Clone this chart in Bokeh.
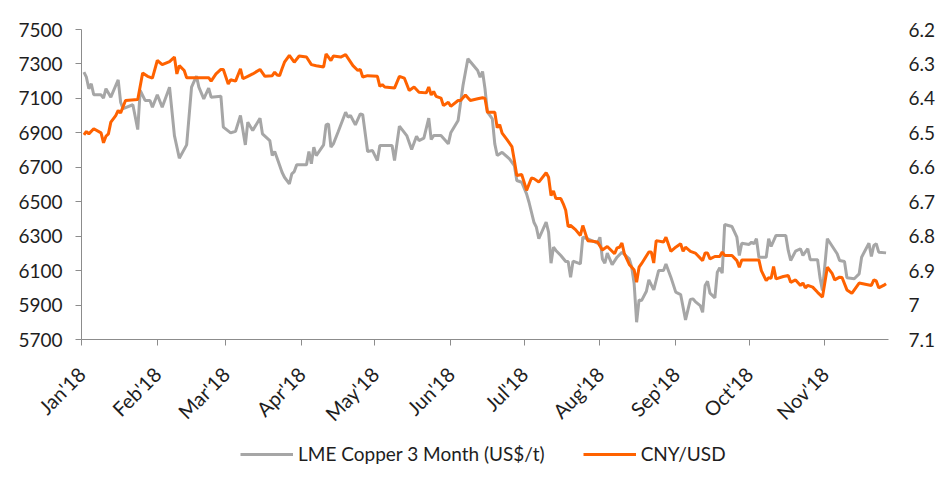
import math
from datetime import datetime
import pandas as pd
from bokeh.plotting import figure
from bokeh.layouts import column
from bokeh.models import (Range1d, LinearAxis, FixedTicker, MonthsTicker,
                          DatetimeTickFormatter, Legend, LegendItem)
from bokeh.embed import file_html
from bokeh.resources import INLINE

# ---------------- data ----------------
lme_dates = [
    "01-02", "01-03", "01-04", "01-05", "01-06", "01-09", "01-10", "01-11", "01-13", "01-16",
    "01-17", "01-18", "01-22", "01-24", "01-25", "01-27", "01-29", "01-30", "02-01", "02-03",
    "02-06", "02-08", "02-10", "02-13", "02-15", "02-17", "02-18", "02-20", "02-22", "02-23",
    "02-27", "02-28", "03-03", "03-05", "03-07", "03-09", "03-10", "03-12", "03-15", "03-16",
    "03-19", "03-20", "03-21", "03-22", "03-24", "03-25", "03-27", "03-28", "03-29", "03-30",
    "04-03", "04-04", "04-05", "04-06", "04-07", "04-10", "04-11", "04-12", "04-13", "04-14",
    "04-16", "04-19", "04-20", "04-21", "04-23", "04-25", "04-26", "04-28", "04-30", "05-02",
    "05-03", "05-08", "05-09", "05-11", "05-14", "05-16", "05-18", "05-19", "05-21", "05-23",
    "05-24", "05-25", "05-28", "05-31", "06-01", "06-04", "06-06", "06-08", "06-12", "06-13",
    "06-14", "06-15", "06-16", "06-17", "06-18", "06-19", "06-20", "06-22", "06-25", "06-27",
    "06-28", "06-30", "07-02", "07-03", "07-05", "07-06", "07-07", "07-10", "07-11", "07-12",
    "07-13", "07-14", "07-16", "07-18", "07-19", "07-20", "07-21", "07-24", "07-25", "07-27",
    "07-31", "08-01", "08-02", "08-03", "08-04", "08-06", "08-08", "08-10", "08-13", "08-14",
    "08-15", "08-16", "08-17", "08-18", "08-20", "08-21", "08-23", "08-25", "08-27", "08-28",
    "08-30", "09-01", "09-03", "09-05", "09-07", "09-08", "09-09", "09-11", "09-12", "09-13",
    "09-14", "09-15", "09-17", "09-18", "09-19", "09-20", "09-21", "09-24", "09-26", "09-27",
    "09-28", "10-01", "10-02", "10-03", "10-04", "10-05", "10-08", "10-09", "10-10", "10-12",
    "10-16", "10-17", "10-18", "10-20", "10-22", "10-23", "10-25", "10-26", "10-29", "10-30",
    "10-31", "11-02", "11-06", "11-07", "11-09", "11-10", "11-13", "11-15", "11-16", "11-19",
    "11-20", "11-21", "11-22", "11-23", "11-26",
]
lme_copper = [
    7252, 7223, 7156, 7185, 7121, 7121, 7101, 7156, 7107, 7208,
    7078, 7040, 7063, 6919, 7146, 7088, 7088, 7049, 7121, 7049,
    7165, 6884, 6753, 6830, 7165, 7229, 7165, 7097, 7159, 7107,
    7113, 6933, 6900, 6909, 7001, 6830, 6962, 6913, 6985, 6894,
    6855, 6768, 6792, 6753, 6671, 6642, 6604, 6662, 6675, 6714,
    6714, 6792, 6720, 6817, 6768, 6830, 6946, 6952, 6817, 6836,
    6908, 7020, 6991, 7001, 6946, 7010, 7005, 6792, 6797, 6739,
    6826, 6826, 6739, 6939, 6884, 6803, 6880, 6855, 6869, 6985,
    6861, 6884, 6884, 6836, 6900, 6972, 7175, 7330, 7262, 7223,
    7256, 7156, 7020, 7001, 6981, 6836, 6768, 6787, 6749, 6710,
    6623, 6613, 6546, 6497, 6381, 6352, 6285, 6381, 6323, 6143,
    6236, 6217, 6188, 6153, 6153, 6062, 6155, 6139, 6294, 6285,
    6259, 6294, 6168, 6143, 6201, 6135, 6178, 6207, 6168, 6120,
    6023, 5800, 5930, 5926, 5980, 6046, 5988, 6100, 6100, 6139,
    6062, 5975, 5961, 5814, 5933, 5936, 5920, 5897, 5858, 6013,
    6038, 5969, 5942, 6091, 6116, 6085, 6368, 6356, 6294, 6188,
    6259, 6252, 6265, 6256, 6285, 6178, 6178, 6285, 6240, 6304,
    6304, 6217, 6159, 6213, 6227, 6188, 6227, 6163, 6163, 6058,
    5984, 6285, 6198, 6159, 6153, 6058, 6053, 6081, 6178, 6259,
    6182, 6246, 6256, 6207, 6203,
]

cny_dates = [
    "01-02", "01-03", "01-04", "01-06", "01-09", "01-10", "01-11", "01-12", "01-13", "01-15",
    "01-16", "01-17", "01-19", "01-24", "01-26", "01-28", "01-30", "02-01", "02-03", "02-06",
    "02-08", "02-09", "02-10", "02-12", "02-13", "02-22", "02-23", "02-25", "02-27", "02-28",
    "03-02", "03-03", "03-05", "03-07", "03-08", "03-10", "03-12", "03-15", "03-17", "03-20",
    "03-21", "03-22", "03-23", "03-24", "03-25", "03-27", "03-29", "03-31", "04-03", "04-05",
    "04-07", "04-10", "04-11", "04-13", "04-14", "04-17", "04-19", "04-22", "04-24", "04-25",
    "04-26", "04-28", "05-02", "05-03", "05-04", "05-05", "05-09", "05-11", "05-13", "05-15",
    "05-17", "05-19", "05-22", "05-23", "05-24", "05-25", "05-26", "05-28", "05-29", "05-31",
    "06-01", "06-04", "06-05", "06-07", "06-09", "06-12", "06-14", "06-15", "06-16", "06-19",
    "06-20", "06-21", "06-22", "06-24", "06-26", "06-27", "06-28", "06-30", "07-01", "07-02",
    "07-04", "07-05", "07-07", "07-10", "07-11", "07-12", "07-13", "07-14", "07-16", "07-17",
    "07-18", "07-19", "07-20", "07-22", "07-24", "07-25", "07-27", "07-29", "07-31", "08-02",
    "08-04", "08-07", "08-08", "08-09", "08-10", "08-11", "08-13", "08-15", "08-16", "08-17",
    "08-18", "08-21", "08-22", "08-23", "08-24", "08-27", "08-28", "08-30", "09-01", "09-03",
    "09-04", "09-05", "09-07", "09-09", "09-12", "09-13", "09-14", "09-15", "09-17", "09-19",
    "09-20", "09-21", "09-24", "09-26", "09-27", "09-28", "10-05", "10-06", "10-08", "10-09",
    "10-10", "10-11", "10-12", "10-15", "10-17", "10-18", "10-20", "10-22", "10-23", "10-24",
    "10-25", "10-27", "10-29", "10-31", "11-02", "11-04", "11-05", "11-07", "11-08", "11-10",
    "11-12", "11-15", "11-20", "11-21", "11-22", "11-23", "11-25", "11-26",
]
cny_usd = [
    6.506, 6.496, 6.503, 6.488, 6.500, 6.529, 6.510, 6.503, 6.469, 6.450,
    6.435, 6.442, 6.406, 6.403, 6.326, 6.336, 6.341, 6.290, 6.302, 6.293,
    6.280, 6.329, 6.305, 6.319, 6.340, 6.340, 6.350, 6.329, 6.316, 6.316,
    6.358, 6.346, 6.350, 6.314, 6.343, 6.336, 6.329, 6.316, 6.336, 6.334,
    6.324, 6.332, 6.334, 6.314, 6.295, 6.275, 6.295, 6.277, 6.280, 6.302,
    6.305, 6.309, 6.271, 6.290, 6.277, 6.280, 6.273, 6.305, 6.319, 6.316,
    6.338, 6.334, 6.336, 6.365, 6.360, 6.367, 6.370, 6.336, 6.341, 6.377,
    6.367, 6.382, 6.384, 6.367, 6.390, 6.380, 6.394, 6.399, 6.421, 6.411,
    6.423, 6.406, 6.406, 6.390, 6.406, 6.401, 6.398, 6.400, 6.440, 6.440,
    6.485, 6.476, 6.501, 6.520, 6.540, 6.580, 6.624, 6.621, 6.643, 6.667,
    6.631, 6.633, 6.643, 6.616, 6.629, 6.682, 6.669, 6.691, 6.691, 6.706,
    6.725, 6.772, 6.769, 6.781, 6.798, 6.769, 6.813, 6.815, 6.817, 6.840,
    6.830, 6.851, 6.834, 6.832, 6.820, 6.851, 6.882, 6.898, 6.934, 6.890,
    6.880, 6.846, 6.846, 6.878, 6.813, 6.817, 6.803, 6.844, 6.832, 6.822,
    6.844, 6.832, 6.844, 6.849, 6.871, 6.849, 6.849, 6.866, 6.859, 6.859,
    6.846, 6.856, 6.856, 6.871, 6.890, 6.869, 6.869, 6.900, 6.929, 6.921,
    6.922, 6.888, 6.924, 6.917, 6.914, 6.934, 6.927, 6.943, 6.936, 6.950,
    6.943, 6.948, 6.963, 6.977, 6.890, 6.909, 6.927, 6.919, 6.920, 6.956,
    6.966, 6.936, 6.943, 6.927, 6.930, 6.950, 6.943, 6.938,
]

lme_ticks = [5700, 5900, 6100, 6300, 6500, 6700, 6900, 7100, 7300, 7500]
cny_ticks = [6.2, 6.3, 6.4, 6.5, 6.6, 6.7, 6.8, 6.9, 7.0, 7.1]
cny_tick_labels = ["6.2", "6.3", "6.4", "6.5", "6.6", "6.7", "6.8", "6.9", "7", "7.1"]
series_labels = ["LME Copper 3 Month (US$/t)", "CNY/USD"]

# ---------------- styling ----------------
FONT = "Lato"
FS = "19px"
TXT = "#1e1e1e"
AXC = "#8c8c8c"
GRAY = "#a6a6a6"
ORANGE = "#ff6200"

lme_x = pd.to_datetime(["2018-" + d for d in lme_dates])
cny_x = pd.to_datetime(["2018-" + d for d in cny_dates])

p = figure(width=952, height=440, x_axis_type="datetime",
           output_backend="svg", toolbar_location=None,
           x_range=Range1d(datetime(2018, 1, 1), datetime(2018, 11, 27)),
           y_range=Range1d(5700, 7500),
           min_border_left=81, min_border_right=64,
           min_border_top=29, min_border_bottom=101)
p.extra_y_ranges = {"cny": Range1d(start=7.1, end=6.2)}
p.grid.visible = False
p.outline_line_color = None
p.background_fill_color = "white"
p.border_fill_color = "white"

r1 = p.line(lme_x, lme_copper, line_color=GRAY, line_width=3)
r2 = p.line(cny_x, cny_usd, line_color=ORANGE, line_width=3, y_range_name="cny")

# left axis
ya = p.yaxis[0]
ya.ticker = FixedTicker(ticks=lme_ticks)
ya.axis_line_color = AXC
ya.major_tick_line_color = AXC
ya.major_tick_out = 6
ya.major_tick_in = 0
ya.minor_tick_line_color = None
ya.major_label_standoff = 13
ya.major_label_text_font = FONT
ya.major_label_text_font_size = FS
ya.major_label_text_color = TXT

# right axis
ra = LinearAxis(y_range_name="cny", ticker=FixedTicker(ticks=cny_ticks),
                major_label_overrides={t: l for t, l in zip(cny_ticks, cny_tick_labels)})
ra.axis_line_color = None
ra.major_tick_line_color = None
ra.minor_tick_line_color = None
ra.major_tick_out = 0
ra.major_tick_in = 0
ra.major_label_standoff = 20
ra.major_label_text_font = FONT
ra.major_label_text_font_size = FS
ra.major_label_text_color = TXT
p.add_layout(ra, "right")

# bottom axis
xa = p.xaxis[0]
xa.ticker = MonthsTicker(months=list(range(12)))
fmt = "%b'%y"
xa.formatter = DatetimeTickFormatter(months=fmt, days=fmt, years=fmt, hours=fmt,
                                     minutes=fmt, seconds=fmt, milliseconds=fmt,
                                     microseconds=fmt, hourmin=fmt, minsec=fmt)
xa.major_label_orientation = math.pi / 4
xa.axis_line_color = AXC
xa.major_tick_line_color = AXC
xa.major_tick_out = 6
xa.major_tick_in = 0
xa.minor_tick_line_color = None
xa.major_label_standoff = 25
xa.major_label_text_font = FONT
xa.major_label_text_font_size = "20px"
xa.major_label_text_color = TXT

# ---------------- legend strip ----------------
lg = figure(width=952, height=51, output_backend="svg", toolbar_location=None,
            x_range=Range1d(0, 1), y_range=Range1d(0, 1),
            x_axis_location=None, y_axis_location=None,
            min_border_left=0, min_border_right=0, min_border_top=0, min_border_bottom=0)
lg.grid.visible = False
lg.outline_line_color = None
lg.border_fill_color = "white"
# swatch-only renderers, placed outside the visible range
d1 = lg.line(x=[5, 6], y=[5, 6], line_color=GRAY, line_width=3)
d2 = lg.line(x=[5, 6], y=[5, 6], line_color=ORANGE, line_width=3)
legend = Legend(items=[LegendItem(label=series_labels[0], renderers=[d1]),
                       LegendItem(label=series_labels[1], renderers=[d2])],
                orientation="horizontal", location=(159, 26),
                glyph_width=53, glyph_height=20, label_standoff=5, spacing=38,
                padding=0, margin=0, border_line_alpha=0, background_fill_alpha=0,
                label_text_font=FONT, label_text_font_size=FS, label_text_color=TXT)
lg.add_layout(legend, "center")

open("out.html", "w").write(file_html(column(p, lg, spacing=0), INLINE))
